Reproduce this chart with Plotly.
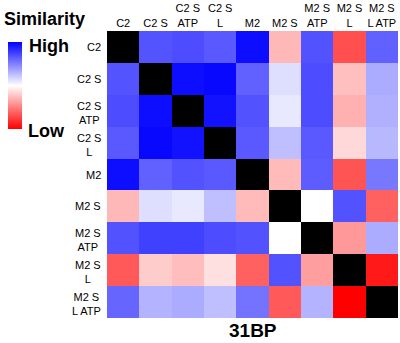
import plotly.graph_objects as go

labels = ["C2", "C2 S", "C2 S<br>ATP", "C2 S<br>L", "M2", "M2 S", "M2 S<br>ATP", "M2 S<br>L", "M2 S<br>L ATP"]
y_labels = ["C2", "C2 S", "C2 S<br>ATP", "C2 S<br>L", "M2", "M2 S", "M2 S<br>ATP", "M2 S<br>L", "M2 S<br>L ATP"]

# similarity: +1 = high (blue), -1 = low (red); None on diagonal (black)
row_c2 =     [None, 0.67, 0.70, 0.65, 0.95, -0.28, 0.68, -0.69, 0.62]
row_c2s =    [0.67, None, 0.95, 0.97, 0.62, 0.13, 0.70, -0.25, 0.33]
row_c2satp = [0.70, 0.95, None, 0.93, 0.68, 0.09, 0.70, -0.31, 0.31]
row_c2sl =   [0.65, 0.97, 0.93, None, 0.65, 0.25, 0.65, -0.15, 0.28]
row_m2 =     [0.95, 0.62, 0.68, 0.65, None, -0.27, 0.64, -0.67, 0.53]
row_m2s =    [-0.28, 0.13, 0.09, 0.25, -0.27, None, 0.0, 0.68, -0.62]
row_m2satp = [0.68, 0.75, 0.75, 0.70, 0.68, 0.0, None, -0.40, 0.33]
row_m2sl =   [-0.65, -0.20, -0.26, -0.12, -0.62, 0.68, -0.38, None, -0.90]
row_m2slatp = [0.60, 0.30, 0.33, 0.25, 0.55, -0.65, 0.30, -1.00, None]

z = [row_c2, row_c2s, row_c2satp, row_c2sl, row_m2, row_m2s, row_m2satp, row_m2sl, row_m2slatp]

fig = go.Figure(go.Heatmap(
    z=z, x=labels, y=y_labels,
    zmin=-1, zmax=1,
    colorscale=[[0, "rgb(255,0,0)"], [0.5, "rgb(255,255,255)"], [1, "rgb(0,0,255)"]],
    hoverongaps=False,
    colorbar=dict(
        x=-0.340, xanchor="left", xpad=0, ypad=0,
        y=0.810, yanchor="middle",
        lenmode="pixels", len=87, thickness=14,
        thicknessmode="pixels",
        showticklabels=False, ticks="", outlinewidth=0,
    ),
))

annots = [
    dict(text="<b>Similarity</b>", xref="paper", yref="paper", x=-0.362, y=1.042,
         xanchor="left", yanchor="middle", showarrow=False, font=dict(size=18)),
    dict(text="<b>High</b>", xref="paper", yref="paper", x=-0.276, y=0.948,
         xanchor="left", yanchor="middle", showarrow=False, font=dict(size=18)),
    dict(text="<b>Low</b>", xref="paper", yref="paper", x=-0.278, y=0.652,
         xanchor="left", yanchor="middle", showarrow=False, font=dict(size=18)),
    dict(text="<b>31BP</b>", xref="paper", yref="paper", x=0.502, y=-0.045,
         xanchor="center", yanchor="middle", showarrow=False, font=dict(size=19)),
]
for lab in y_labels:
    annots.append(dict(text=lab, xref="paper", yref="y", x=-0.015, y=lab,
                       xanchor="right", yanchor="middle", align="center",
                       showarrow=False, font=dict(size=11), yshift=-2 if "<br>" in lab else 0))

fig.update_layout(
    width=400, height=343,
    margin=dict(l=107, r=2, t=31, b=25),
    paper_bgcolor="white", plot_bgcolor="black",
    font=dict(family="Liberation Sans, Arial, sans-serif", size=11, color="black"),
    xaxis=dict(side="top", showgrid=False, zeroline=False, ticks="", tickangle=0,
               tickfont=dict(size=11), ticklabelstandoff=1),
    yaxis=dict(autorange="reversed", showgrid=False, zeroline=False, ticks="",
               showticklabels=False),
    annotations=annots,
)

fig.write_html("out.html")
